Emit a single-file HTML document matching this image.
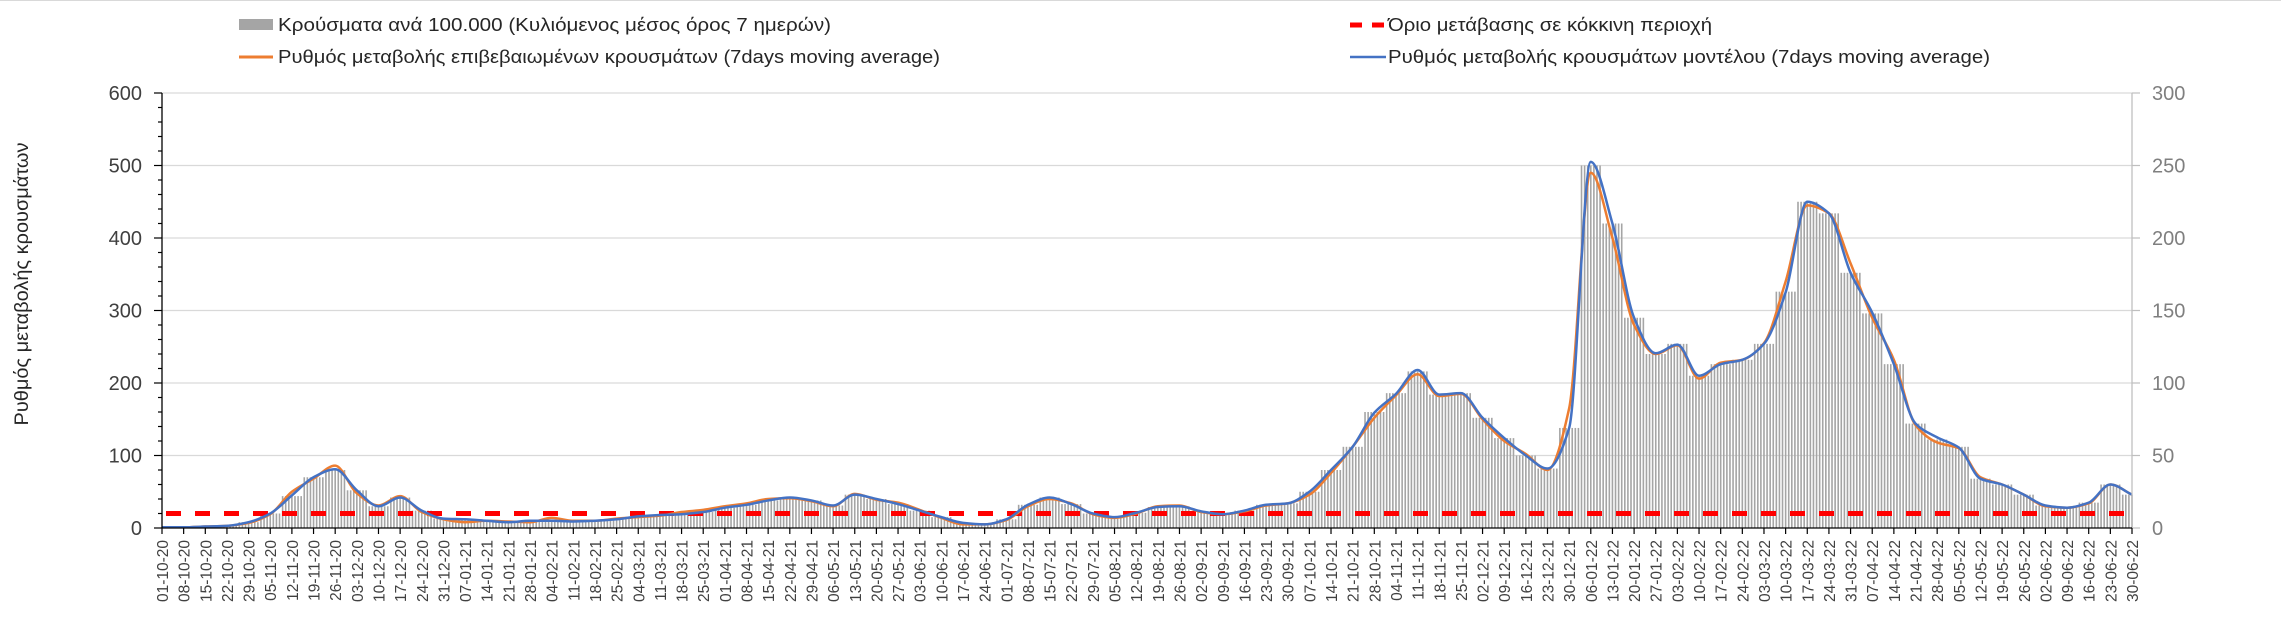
<!DOCTYPE html>
<html><head><meta charset="utf-8">
<style>
html,body{margin:0;padding:0;background:#fff;}
svg{display:block;font-family:"Liberation Sans",Arial,sans-serif;}
</style></head>
<body>
<svg id="chart" width="2281" height="621" viewBox="0 0 2281 621" xmlns="http://www.w3.org/2000/svg">
<rect x="0" y="0" width="2281" height="621" fill="#fff"/>
<line x1="0" y1="0.5" x2="2281" y2="0.5" stroke="#d9d9d9" stroke-width="1"/>
<g id="legend" font-size="18" fill="#262626">
  <g>
    <rect x="239" y="19" width="34" height="11" fill="#a5a5a5"/>
    <text x="278" y="31" textLength="553" lengthAdjust="spacingAndGlyphs">Κρούσματα ανά 100.000 (Κυλιόμενος μέσος όρος 7 ημερών)</text>
  </g>
  <g>
    <line x1="239" y1="57" x2="273" y2="57" stroke="#ed7d31" stroke-width="3"/>
    <text x="278" y="63" textLength="662" lengthAdjust="spacingAndGlyphs">Ρυθμός μεταβολής επιβεβαιωμένων κρουσμάτων (7days moving average)</text>
  </g>
  <g>
    <line x1="1350" y1="25" x2="1386" y2="25" stroke="#ff0000" stroke-width="5" stroke-dasharray="12,10"/>
    <text x="1388" y="31" textLength="324" lengthAdjust="spacingAndGlyphs">Όριο μετάβασης σε κόκκινη περιοχή</text>
  </g>
  <g>
    <line x1="1350" y1="57" x2="1386" y2="57" stroke="#4472c4" stroke-width="2.5"/>
    <text x="1388" y="63" textLength="602" lengthAdjust="spacingAndGlyphs">Ρυθμός μεταβολής κρουσμάτων μοντέλου (7days moving average)</text>
  </g>
</g>
<text x="0" y="0" transform="translate(28,284) rotate(-90)" text-anchor="middle" font-size="19" fill="#262626" textLength="283" lengthAdjust="spacingAndGlyphs">Ρυθμός μεταβολής κρουσμάτων</text>
<g id="grid"></g>
<g id="bars"></g>
<g id="threshold"></g>
<g id="lines"></g>
<g id="axes"></g>
</svg>
<script>
// weekly categories start 01-10-2020, 92 weekly points (day offset = 7*i)
const startDate = [2020, 9, 1];
const weekCount = 92;
const leftTicks = [0,100,200,300,400,500,600];
const rightTicks = [0,50,100,150,200,250,300];
const thresholdValue = [20];
// bars: cases per 100k, right axis (weekly)
const barValues = [0.5,0.5,1,1.5,4,10,22,35,40,26,15,21,12,6.5,6,5,4,5,5,4.5,5,6,8,9,9.5,11,14,16,19,21,19,15.5,23,20,16.5,12,7.5,3.5,2.5,6,16,21,16.5,10,7.5,10.5,14.5,15,11.5,9.5,12,16,17,25,40,56,80,93,108,92,93,76,62,50,41,69,250,210,145,120,127,105,113,116,127,163,225,217,176,148,113,72,61,56,34,30,23,15.5,14,17.5,30,23];
// blue model line, left axis (weekly)
const modelValues = [1,1,2,3,8,20,45,70,81,52,30,42,24,13,12,10,8,10,10,9,10,12,16,18,19,22,28,32,38,42,38,31,46,40,33,24,15,7,5,12,32,42,33,20,15,21,29,30,23,19,24,32,34,50,80,112,159,185,218,184,186,152,124,100,82,138,505,420,290,241,253,210,226,232,254,325,450,434,352,297,226,144,125,111,68,60,46,31,28,35,60,46];
// orange confirmed line, left axis (weekly)
const confirmedValues = [1,1,2,3,7,19,50,68,86,48,31,44,22,12,8,10,9,8,14,10,10,13,15,17,22,25,30,34,40,41,37,30,47,39,35,25,14,5,5,11,30,40,34,19,14,20,30,31,22,19,23,31,34,46,76,112,152,183,212,182,185,150,120,102,80,165,490,400,280,240,252,206,228,232,255,340,445,434,365,290,232,142,118,110,70,60,46,30,28,34,60,46];

const NS = "http://www.w3.org/2000/svg";
const X0 = 162, X1 = 2132, Y0 = 528, Y600 = 93;
const totalDays = 7*(weekCount-1);
function xDay(d){ return X0 + (X1-X0)*d/totalDays; }
function yLeft(v){ return Y0 - (Y0-Y600)*v/600; }
function yRight(v){ return Y0 - (Y0-Y600)*v/300; }
function mk(tag, attrs, parent){
  const el = document.createElementNS(NS, tag);
  for (const k in attrs) el.setAttribute(k, attrs[k]);
  parent.appendChild(el);
  return el;
}
const grid = document.getElementById('grid');
leftTicks.forEach(t=>{
  if(t===0) return;
  const l = mk('line',{x1:X0,x2:X1,y1:yLeft(t),y2:yLeft(t),stroke:'#d9d9d9','stroke-width':1.3},grid);
  
  
});
// bars
const bars = document.getElementById('bars');
barValues.forEach((v,i)=>{
  for(let k=-3;k<=3;k++){
    const d = i*7+k;
    if(d<0||d>totalDays) continue;
    const x = xDay(d);
    const r = mk('rect',{x:(x-0.8).toFixed(2),y:yRight(v).toFixed(2),width:1.6,height:(Y0-yRight(v)).toFixed(2),fill:'#a5a5a5'},bars);
    
    
  }
});
// threshold
const th = document.getElementById('threshold');
const tl = mk('line',{x1:X0+4,x2:X1,y1:yLeft(thresholdValue[0]),y2:yLeft(thresholdValue[0]),stroke:'#ff0000','stroke-width':5,'stroke-dasharray':'15,14'},th);


// monotone cubic path (no overshoot)
function smoothPath(vals){
  const xs = vals.map((v,i)=>xDay(i*7));
  const ys = vals.map(v=>yLeft(v));
  const n = xs.length;
  const dx=[], m=[], t=new Array(n);
  for(let i=0;i<n-1;i++){ dx.push(xs[i+1]-xs[i]); m.push((ys[i+1]-ys[i])/dx[i]); }
  t[0]=m[0]; t[n-1]=m[n-2];
  for(let i=1;i<n-1;i++){
    if(m[i-1]*m[i]<=0) t[i]=0;
    else t[i]=3*(dx[i-1]+dx[i])/((2*dx[i]+dx[i-1])/m[i-1]+(dx[i]+2*dx[i-1])/m[i]);
  }
  let d='M'+xs[0].toFixed(2)+','+ys[0].toFixed(2);
  for(let i=0;i<n-1;i++){
    const h=dx[i]/3;
    d+=' C'+(xs[i]+h).toFixed(2)+','+(ys[i]+t[i]*h).toFixed(2)+' '+(xs[i+1]-h).toFixed(2)+','+(ys[i+1]-t[i+1]*h).toFixed(2)+' '+xs[i+1].toFixed(2)+','+ys[i+1].toFixed(2);
  }
  return d;
}
const lines = document.getElementById('lines');
const po = mk('path',{d:smoothPath(confirmedValues),fill:'none',stroke:'#ed7d31','stroke-width':2.5,'stroke-linejoin':'round'},lines);


const pb = mk('path',{d:smoothPath(modelValues),fill:'none',stroke:'#4472c4','stroke-width':2.5,'stroke-linejoin':'round'},lines);


// axes
const ax = document.getElementById('axes');
const la = mk('line',{x1:X0,x2:X0,y1:Y600,y2:Y0,stroke:'#000','stroke-width':1.3},ax);


for(let v=0;v<=600;v+=20){
  const major = v%100===0;
  const t = mk('line',{x1:major?X0-8:X0-4,x2:X0,y1:yLeft(v),y2:yLeft(v),stroke:'#000','stroke-width':1.2},ax);
  
  
}
leftTicks.forEach(v=>{
  const t = mk('text',{x:142,y:yLeft(v)+7,'text-anchor':'end','font-size':20,fill:'#404040'},ax);
  t.textContent = v;
  
  
});
const ra = mk('line',{x1:X1,x2:X1,y1:Y600,y2:Y0,stroke:'#bfbfbf','stroke-width':1.3},ax);


rightTicks.forEach(v=>{
  const tk = mk('line',{x1:X1,x2:X1+8,y1:yRight(v),y2:yRight(v),stroke:'#bfbfbf','stroke-width':1.2},ax);
  
  
  const t = mk('text',{x:2152,y:yRight(v)+7,'text-anchor':'start','font-size':20,fill:'#7f7f7f'},ax);
  t.textContent = v;
  
  
});
const xa = mk('line',{x1:X0,x2:X1,y1:Y0,y2:Y0,stroke:'#000','stroke-width':1.3},ax);


function pad(n){return (n<10?'0':'')+n;}
for(let i=0;i<weekCount;i++){
  const d = new Date(Date.UTC(startDate[0],startDate[1],startDate[2]+i*7));
  const lab = pad(d.getUTCDate())+'-'+pad(d.getUTCMonth()+1)+'-'+pad(d.getUTCFullYear()%100);
  const x = xDay(i*7);
  const tk = mk('line',{x1:x,x2:x,y1:Y0,y2:Y0+6,stroke:'#000','stroke-width':1.2},ax);
  
  
  const t = mk('text',{x:0,y:0,transform:'translate('+(x+6).toFixed(2)+',540) rotate(-90)','text-anchor':'end','font-size':15.5,fill:'#404040'},ax);
  t.textContent = lab;
  
  
}
</script>
</body></html>
